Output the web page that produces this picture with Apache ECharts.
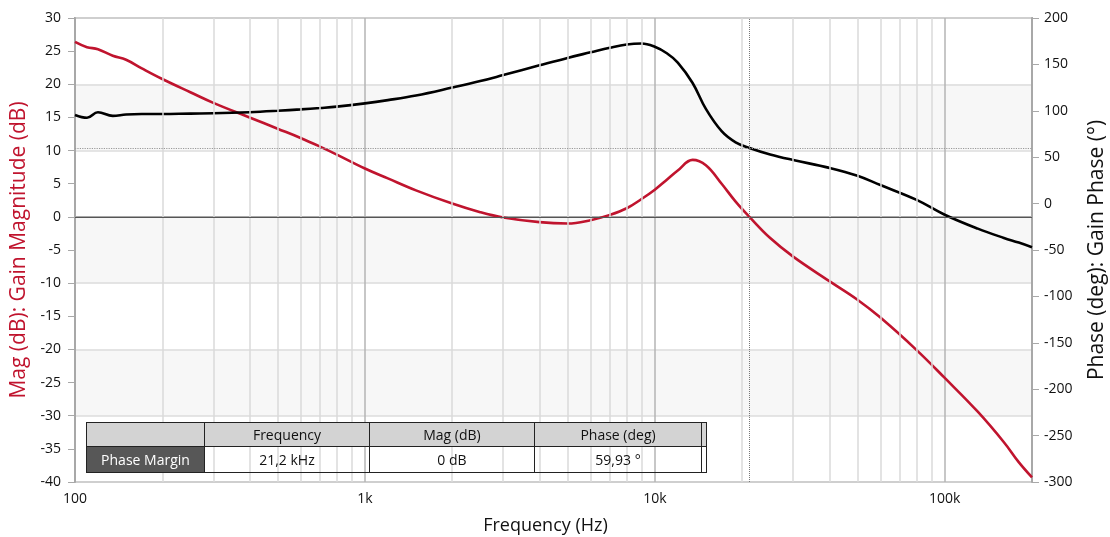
<!DOCTYPE html>
<html>
<head>
<meta charset="utf-8">
<script src="https://cdn.jsdelivr.net/npm/echarts@6/dist/echarts.min.js"></script>
<style>
  html, body { margin: 0; padding: 0; background: #fff; overflow: hidden; }
  #wrap { position: relative; width: 1110px; height: 537px; overflow: hidden; }
  #chart { position: absolute; left: 0; top: 0; width: 1110px; height: 537px; }
  #pm {
    position: absolute; left: 86px; top: 422px;
    border-collapse: collapse; font-family: 'Open Sans', sans-serif; font-size: 14px;
  }
  #pm td { border: 1.5px solid #222; text-align: center; padding: 0; color: #111; }
  #pm tr.head td { background: #d3d3d3; height: 23px; }
  #pm tr.row td { height: 25px; }
  #pm td.rowname { background: #575757; color: #fff; }
  #pm td.gap { width: 4px; background: #fff; }
</style>
</head>
<body>
<div id="wrap">
  <div id="chart"></div>
  <table id="pm"></table>
</div>
<script>
const freqs = [100, 110, 120, 135, 150, 170, 200, 250, 300, 400, 500, 600, 700, 800,
  1000, 1200, 1500, 2000, 2500, 3000, 4000, 5000, 6000, 7000, 8000, 9000,
  10000, 11000, 12000, 13500, 15000, 17000, 19000, 21200, 25000, 30000, 40000,
  50000, 60000, 80000, 100000, 130000, 160000, 180000, 200000]
const magDb = [26.4, 25.6, 25.3, 24.3, 23.7, 22.4, 20.8, 18.8, 17.2, 15.0, 13.3, 11.9, 10.6, 9.4,
  7.3, 5.8, 4.0, 2.0, 0.7, -0.1, -0.8, -1.0, -0.5, 0.3, 1.3, 2.7,
  4.1, 5.6, 7.0, 8.6, 7.8, 5.0, 2.3, 0, -3.2, -6.0, -9.7,
  -12.5, -15.2, -20.1, -24.3, -29.4, -34.0, -37.0, -39.3]
const phaseDeg = [95.5, 92.5, 98.5, 94.5, 96, 96.5, 96.5, 97, 97.3, 98.5, 100, 101.5, 103, 104.5,
  108, 111.5, 116.5, 125, 132, 138.5, 149, 157, 163, 168, 171.5, 172.5,
  169, 162, 152, 130, 102, 78, 66, 60, 53, 47, 38.5,
  30, 20, 4, -12, -27, -37, -42, -47]
const minorFreqs = [200, 300, 400, 500, 600, 700, 800, 900,
  2000, 3000, 4000, 5000, 6000, 7000, 8000, 9000,
  20000, 30000, 40000, 50000, 60000, 70000, 80000, 90000]
const xTickLabels = { 100: '100', 1000: '1k', 10000: '10k', 100000: '100k' }
const pmFreq = 21200
const pmPhase = 59.93
const tableHead = ['', 'Frequency', 'Mag (dB)', 'Phase (deg)']
const tableRow = ['Phase Margin', '21,2 kHz', '0 dB', '59,93 °']
const colWidths = [117, 164, 164, 166]

// Tabelle
let html = '<tr class="head">'
tableHead.forEach((t, i) => { html += '<td style="width:' + colWidths[i] + 'px">' + t + '</td>' })
html += '<td class="gap"></td></tr><tr class="row">'
tableRow.forEach((t, i) => { html += '<td' + (i === 0 ? ' class="rowname"' : '') + '>' + t + '</td>' })
html += '<td class="gap"></td></tr>'
document.getElementById('pm').innerHTML = html

const font = "'Open Sans', sans-serif"
const red = '#c0142e'
const chart = echarts.init(document.getElementById('chart'), null, { width: 1110, height: 537 })

const option = {
  animation: false,
  textStyle: { fontFamily: font },
  grid: {
    left: 75, right: 78, top: 18, bottom: 55, outerBoundsMode: 'none',
    show: true, borderColor: '#a8a8a8', borderWidth: 2
  },
  xAxis: {
    type: 'log', logBase: 10, min: 100, max: 200000,
    name: 'Frequency (Hz)', nameLocation: 'middle', nameGap: 35,
    nameTextStyle: { fontSize: 18, color: '#111', padding: [0, 16, 0, 0] },
    axisLine: { lineStyle: { color: '#a8a8a8', width: 2 } },
    axisTick: { show: false },
    axisLabel: { fontSize: 14, color: '#111', margin: 10, formatter: v => xTickLabels[Math.round(v)] || '' },
    splitLine: { show: true, lineStyle: { color: '#b4b4b4', width: 1.5 } }
  },
  yAxis: [
    {
      type: 'value', min: -40, max: 30, interval: 5, position: 'left',
      name: 'Mag (dB): Gain Magnitude (dB)', nameLocation: 'middle', nameGap: 43, nameRotate: 90,
      nameTextStyle: { fontSize: 21, color: red },
      axisLine: { show: true, lineStyle: { color: '#a8a8a8', width: 2 } },
      axisTick: { show: true, length: 7, lineStyle: { color: '#a8a8a8' } },
      axisLabel: { fontSize: 14, color: '#111', margin: 14 },
      splitLine: { show: false }
    },
    {
      type: 'value', min: -300, max: 200, interval: 50, position: 'right',
      name: 'Phase (deg): Gain Phase (°)', nameLocation: 'middle', nameGap: 55, nameRotate: 90,
      nameTextStyle: { fontSize: 21, color: '#111' },
      axisLine: { show: true, lineStyle: { color: '#a8a8a8', width: 2 } },
      axisTick: { show: true, length: 7, lineStyle: { color: '#a8a8a8' } },
      axisLabel: { fontSize: 14, color: '#111', margin: 12 },
      splitLine: { show: false }
    },
    {
      // nur Gitterlinien und Bänder
      type: 'value', min: -40, max: 30, interval: 10, position: 'left', show: true,
      axisLine: { show: false }, axisTick: { show: false }, axisLabel: { show: false },
      splitLine: { show: true, lineStyle: { color: '#dcdcdc', width: 1.5 } },
      splitArea: { show: true, areaStyle: { color: ['rgba(255,255,255,0)', '#f7f7f7'] } }
    }
  ],
  series: [
    {
      // Nebenlinien der Log-Achse
      type: 'line', data: [], yAxisIndex: 0, z: 1,
      markLine: {
        silent: true, symbol: 'none', label: { show: false },
        lineStyle: { color: '#dadada', width: 1.5, type: 'solid' },
        data: minorFreqs.map(f => ({ xAxis: f }))
      }
    },
    {
      type: 'line', data: [], yAxisIndex: 0, z: 2,
      markLine: {
        silent: true, symbol: 'none', label: { show: false },
        data: [
          { yAxis: 0, lineStyle: { color: '#555', width: 1.2, type: 'solid' } },
          { xAxis: pmFreq, lineStyle: { color: '#777', width: 1, type: 'dotted' } }
        ]
      }
    },
    {
      type: 'line', data: [], yAxisIndex: 1, z: 2,
      markLine: {
        silent: true, symbol: 'none', label: { show: false },
        data: [{ yAxis: pmPhase, lineStyle: { color: '#999', width: 1.2, type: 'dotted' } }]
      }
    },
    {
      name: 'Gain Magnitude', type: 'line', yAxisIndex: 0, z: 4,
      data: freqs.map((f, i) => [f, magDb[i]]),
      showSymbol: false, smooth: 0.4,
      lineStyle: { color: red, width: 2.6 }
    },
    {
      name: 'Gain Phase', type: 'line', yAxisIndex: 1, z: 4,
      data: freqs.map((f, i) => [f, phaseDeg[i]]),
      showSymbol: false, smooth: 0.4,
      lineStyle: { color: '#000', width: 2.6 }
    }
  ]
}
chart.setOption(option)
</script>
</body>
</html>
